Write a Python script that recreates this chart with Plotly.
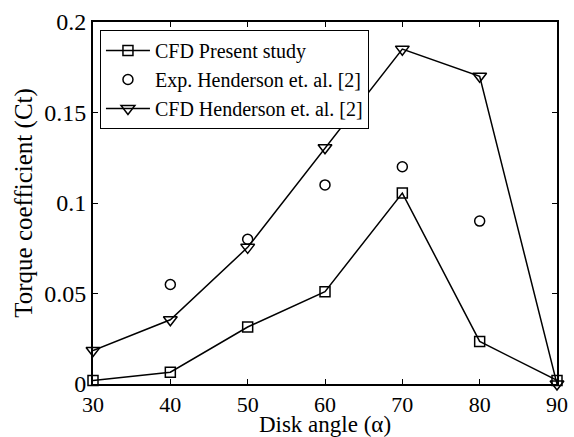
import plotly.graph_objects as go

angles = [30, 40, 50, 60, 70, 80, 90]
cfd_present = [0.002, 0.0065, 0.0315, 0.051, 0.1055, 0.0235, 0.002]
exp_angles = [40, 50, 60, 70, 80]
exp_henderson = [0.055, 0.080, 0.110, 0.120, 0.090]
cfd_henderson = [0.0185, 0.0355, 0.0755, 0.1305, 0.185, 0.170, 0.0]
x_ticks = [30, 40, 50, 60, 70, 80, 90]
y_ticks = [0, 0.05, 0.1, 0.15, 0.2]
y_ticktext = ["0", "0.05", "0.1", "0.15", "0.2"]

font_family = "Times New Roman, Liberation Serif, serif"

fig = go.Figure()
fig.add_trace(go.Scatter(
    x=angles, y=cfd_present, name="CFD Present study", mode="lines+markers",
    line=dict(color="black", width=1.5),
    marker=dict(symbol="square-open", size=10, color="black", line=dict(width=1.5)),
    cliponaxis=False))
fig.add_trace(go.Scatter(
    x=exp_angles, y=exp_henderson, name="Exp. Henderson et. al. [2]", mode="markers",
    marker=dict(symbol="circle-open", size=10, color="black", line=dict(width=1.5)),
    cliponaxis=False))
fig.add_trace(go.Scatter(
    x=angles, y=cfd_henderson, name="CFD Henderson et. al. [2]", mode="lines+markers",
    line=dict(color="black", width=1.5),
    marker=dict(symbol="triangle-down-open", size=12, color="black", line=dict(width=1.5)),
    cliponaxis=False))

fig.update_layout(
    width=574, height=437,
    margin=dict(l=93, r=17, t=22, b=53),
    paper_bgcolor="white", plot_bgcolor="white",
    font=dict(family=font_family, color="black", size=22),
    xaxis=dict(range=[30, 90], tickvals=x_ticks,
               showline=True, linecolor="black", linewidth=2, mirror="ticks",
               ticks="inside", ticklen=5, tickwidth=1, tickcolor="black",
               showgrid=False, zeroline=False, automargin=False,
               tickfont=dict(family=font_family, size=22, color="black"),
               title=dict(text="Disk angle (α)", font=dict(family=font_family, size=23), standoff=0)),
    yaxis=dict(range=[0, 0.2], tickvals=y_ticks, ticktext=y_ticktext,
               showline=True, linecolor="black", linewidth=2, mirror="ticks",
               ticks="inside", ticklen=5, tickwidth=1, tickcolor="black",
               showgrid=False, zeroline=False, automargin=False,
               tickfont=dict(family=font_family, size=24, color="black"),
               title=dict(text="Torque coefficient (Ct)", font=dict(family=font_family, size=25), standoff=4)),
    legend=dict(x=0.015, y=0.978, xanchor="left", yanchor="top",
                bordercolor="black", borderwidth=1, bgcolor="white",
                font=dict(family=font_family, size=20, color="black"),
                itemwidth=44, tracegroupgap=0),
    showlegend=True,
)

fig.write_html("out.html")
